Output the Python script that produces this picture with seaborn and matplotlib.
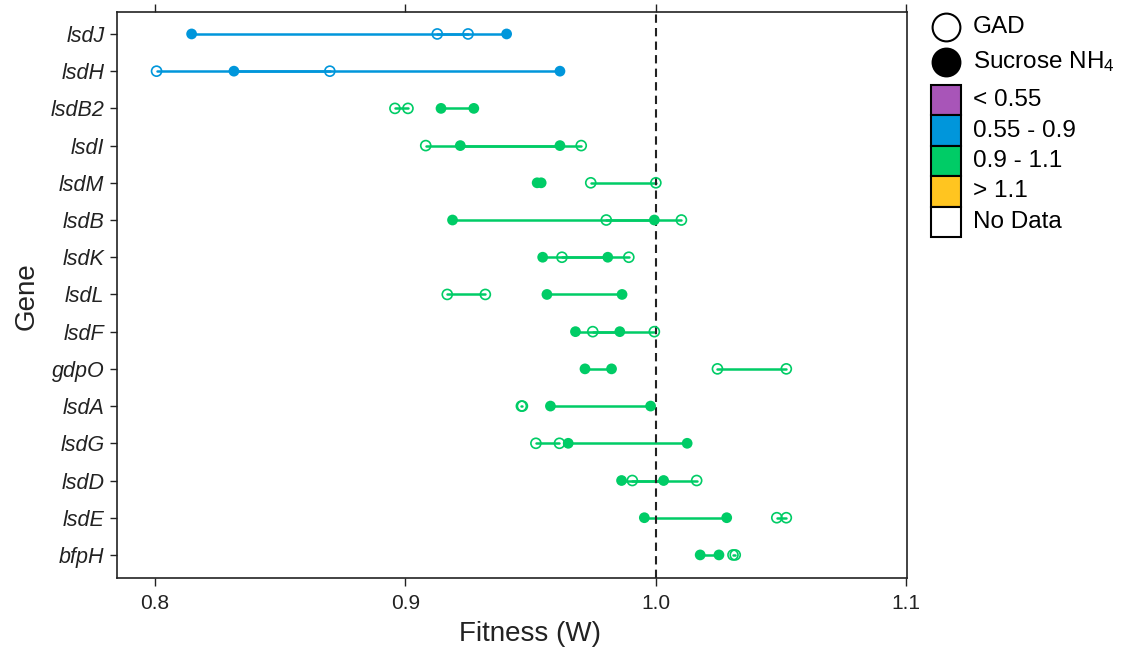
import numpy as np
import pandas as pd
import matplotlib
matplotlib.use("Agg")
import matplotlib.pyplot as plt
from matplotlib.patches import Rectangle
import seaborn as sns

# Fitness per gene: two replicates in each growth condition
genes = ["lsdJ", "lsdH", "lsdB2", "lsdI", "lsdM", "lsdB", "lsdK", "lsdL",
         "lsdF", "gdpO", "lsdA", "lsdG", "lsdD", "lsdE", "bfpH"]
gad_rep1 = [0.9127, 0.8006, 0.8958, 0.9081, 0.9740, 0.9802, 0.9625, 0.9167,
            0.9748, 1.0246, 0.9463, 0.9521, 0.9906, 1.0483, 1.0308]
gad_rep2 = [0.9250, 0.8698, 0.9010, 0.9702, 1.0000, 1.0102, 0.9892, 0.9319,
            0.9994, 1.0521, 0.9467, 0.9615, 1.0163, 1.0521, 1.0317]
suc_rep1 = [0.8146, 0.8315, 0.9142, 0.9219, 0.9526, 0.9188, 0.9548, 0.9565,
            0.9679, 0.9717, 0.9579, 0.9650, 0.9863, 0.9954, 1.0177]
suc_rep2 = [0.9404, 0.9617, 0.9273, 0.9617, 0.9542, 0.9994, 0.9808, 0.9865,
            0.9856, 0.9823, 0.9979, 1.0125, 1.0031, 1.0283, 1.0252]

bin_edges = [-np.inf, 0.55, 0.9, 1.1, np.inf]
bin_labels = ["< 0.55", "0.55 - 0.9", "0.9 - 1.1", "> 1.1"]
bin_colors = ["#A855B8", "#0096DB", "#00CC66", "#FFC520"]
nodata_color = "#FFFFFF"
condition_labels = ["GAD", "Sucrose NH$_4$"]
x_ticks = [0.8, 0.9, 1.0, 1.1]

# Long table: one row per measurement
rows = []
for i, g in enumerate(genes):
    for cond, r1, r2 in (("GAD", gad_rep1[i], gad_rep2[i]),
                         ("Sucrose", suc_rep1[i], suc_rep2[i])):
        for rep, v in ((1, r1), (2, r2)):
            rows.append(dict(gene=g, pos=i, condition=cond, rep=rep,
                             fitness=v, unit=f"{g}-{cond}"))
df = pd.DataFrame(rows)
gene_mean = df.groupby("gene")["fitness"].mean()
df["cls"] = pd.cut(df["gene"].map(gene_mean), bins=bin_edges,
                   labels=bin_labels).astype(str)
palette = dict(zip(bin_labels, bin_colors))

sns.set_style("white")
plt.rcParams["font.family"] = ["Liberation Sans", "DejaVu Sans"]
plt.rcParams["mathtext.fontset"] = "custom"
plt.rcParams["mathtext.rm"] = "Liberation Sans"
plt.rcParams["mathtext.it"] = "Liberation Sans:italic"

W, H = 1128, 652
fig = plt.figure(figsize=(W / 100, H / 100), dpi=100)
ax = fig.add_axes([117 / W, 1 - 578 / H, (907 - 117) / W, (578 - 12) / H])

# Range between replicates of the same condition
sns.lineplot(data=df, x="fitness", y="pos", units="unit", estimator=None,
             hue="cls", palette=palette, linewidth=1.8, legend=False,
             sort=True, ax=ax)

# GAD: hollow circles
n_before = len(ax.collections)
sns.scatterplot(data=df[df["condition"] == "GAD"], x="fitness", y="pos",
                hue="cls", palette=palette, s=52, marker="o",
                legend=False, ax=ax, zorder=3)
for coll in ax.collections[n_before:]:
    fc = coll.get_facecolors()
    coll.set_edgecolors(fc)
    coll.set_facecolors("none")
    coll.set_linewidths(1.2)

# Sucrose NH4: filled circles
sns.scatterplot(data=df[df["condition"] == "Sucrose"], x="fitness", y="pos",
                hue="cls", palette=palette, s=60, marker="o",
                linewidth=0, legend=False, ax=ax, zorder=4)

ax.axvline(1.0, color="#222222", linestyle=(0, (4, 2.5)), linewidth=1.5,
           zorder=2)

ax.set_xlim(0.7848, 1.1003)
ax.set_ylim(14.62, -0.59)
ax.set_xticks(x_ticks)
ax.set_xticklabels([f"{t:.1f}" for t in x_ticks])
ax.set_yticks(range(len(genes)))
ax.set_yticklabels(genes, fontstyle="italic")
ax.tick_params(axis="x", which="both", bottom=True, top=True,
               direction="out", length=5.5, width=1.0, labelsize=15,
               pad=6, colors="#222222")
ax.tick_params(axis="y", left=True, direction="out", length=5, width=1.0,
               labelsize=15.5, pad=4, colors="#222222")
for sp in ax.spines.values():
    sp.set_linewidth(1.2)
    sp.set_color("#222222")

ax.set_xlabel("Fitness (W)", fontsize=20, color="#222222", va="center")
ax.set_ylabel("Gene", fontsize=20, color="#222222", va="center")
ax.xaxis.set_label_coords((530 - 117) / (907 - 117), -(634 - 578) / (578 - 12))
ax.yaxis.set_label_coords(-(117 - 27) / (907 - 117), (578 - 296) / (578 - 12))

# Legend panel
lg = fig.add_axes([0, 0, 1, 1])
lg.set_xlim(0, W)
lg.set_ylim(H, 0)
lg.axis("off")
lg.patch.set_alpha(0)
lg.scatter([946], [27], s=400, facecolors="white", edgecolors="black",
           linewidths=1.5)
lg.scatter([946], [62], s=400, facecolors="black", edgecolors="black",
           linewidths=1.5)
for txt, yc in zip(condition_labels, [27, 62]):
    lg.text(973, yc, txt, fontsize=17.5, va="center", ha="left", color="black")

box_top, box_h = 85, 30.4
for k, (lab, col) in enumerate(zip(bin_labels + ["No Data"],
                                   bin_colors + [nodata_color])):
    y0 = box_top + k * box_h
    lg.add_patch(Rectangle((931, y0), 30, box_h, facecolor=col,
                           edgecolor="black", linewidth=1.5))
    lg.text(973, y0 + box_h / 2, lab, fontsize=17.5, va="center", ha="left",
            color="black")

fig.savefig("out.png", dpi=100)
